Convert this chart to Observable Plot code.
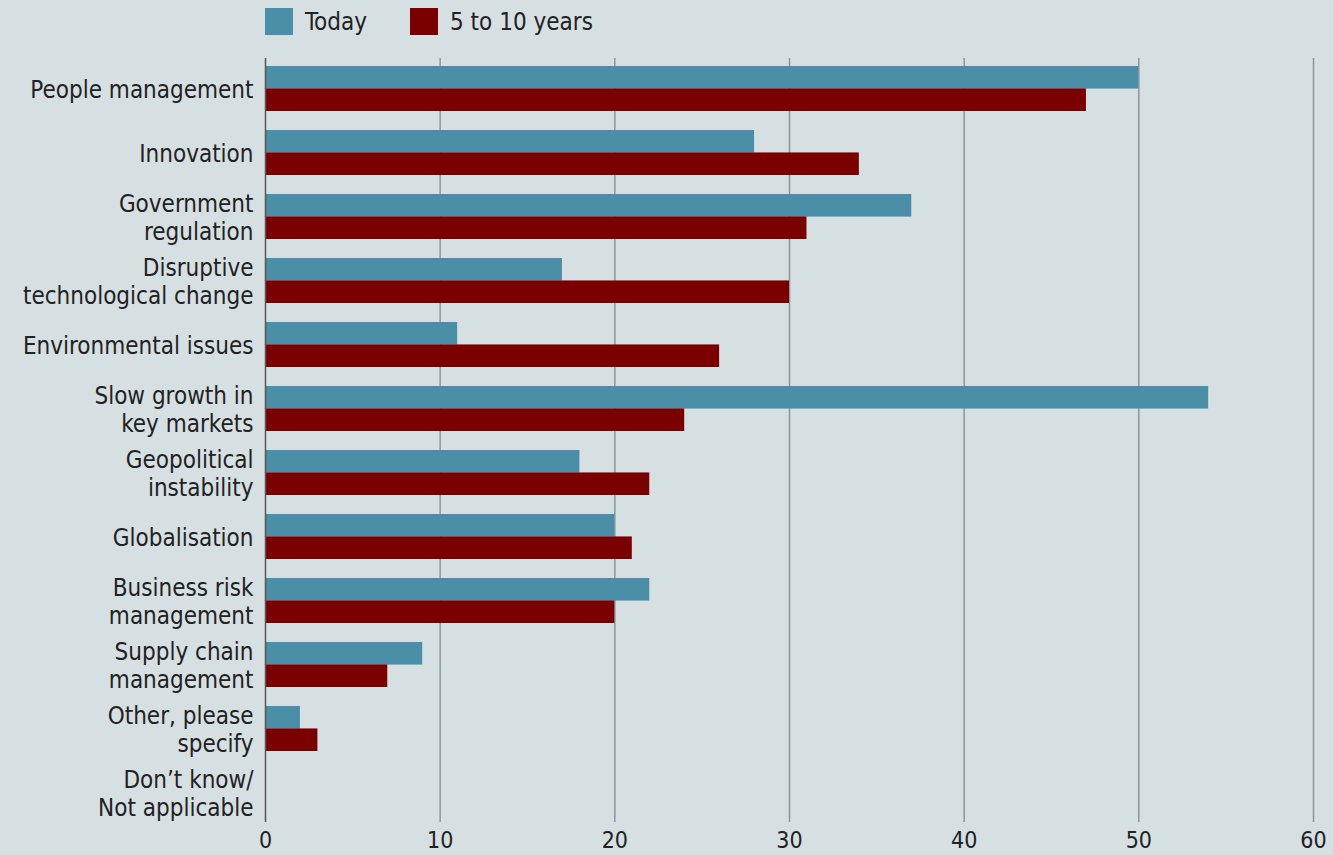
<!DOCTYPE html>
<html>
<head>
<meta charset="utf-8">
<script src="https://cdn.jsdelivr.net/npm/d3@7"></script>
<script src="https://cdn.jsdelivr.net/npm/@observablehq/plot@0.6"></script>
<style>
  html, body { margin: 0; padding: 0; background: #d6dfe2; }
  body { width: 1333px; height: 855px; overflow: hidden; font-family: "DejaVu Sans Condensed", "DejaVu Sans", sans-serif; color: #222; }
  #legend { height: 40px; display: flex; align-items: center; padding-left: 265px; font-size: 24px; box-sizing: border-box; padding-top: 3px; }
  .sw { width: 28px; height: 27px; display: inline-block; margin-right: 12px; }
  .item { display: flex; align-items: center; margin-right: 43px; }
</style>
</head>
<body>
<div id="legend"></div>
<div id="chart"></div>
<script>
const categories = [
  "People management",
  "Innovation",
  "Government\nregulation",
  "Disruptive\ntechnological change",
  "Environmental issues",
  "Slow growth in\nkey markets",
  "Geopolitical\ninstability",
  "Globalisation",
  "Business risk\nmanagement",
  "Supply chain\nmanagement",
  "Other, please\nspecify",
  "Don\u2019t know/\nNot applicable"
];
const today = [50, 28, 37, 17, 11, 54, 18, 20, 22, 9, 2, 0];
const future = [47, 34, 31, 30, 26, 24, 22, 21, 20, 7, 3, 0];
const seriesNames = ["Today", "5 to 10 years"];
const seriesColors = ["#4a8ea8", "#7a0000"];
const xTicks = [0, 10, 20, 30, 40, 50, 60];

const legend = document.getElementById("legend");
seriesNames.forEach((n, i) => {
  const it = document.createElement("div");
  it.className = "item";
  it.innerHTML = `<span class="sw" style="background:${seriesColors[i]}"></span><span>${n}</span>`;
  legend.appendChild(it);
});

const todayData = categories.map((c, i) => ({category: c, value: today[i]}));
const futureData = categories.map((c, i) => ({category: c, value: future[i]}));

const width = 1333, height = 815, marginTop = 18, marginBottom = 33;
const padIn = 0.3, padOut = 0.11;
const step = (height - marginTop - marginBottom) / (categories.length - padIn + 2 * padOut);
const half = step * (1 - padIn) / 2;

const chart = Plot.plot({
  width, height,
  marginLeft: 265, marginRight: 20, marginTop, marginBottom,
  style: {background: "transparent", fontFamily: "DejaVu Sans Condensed, DejaVu Sans, sans-serif", color: "#222"},
  x: {domain: [0, 60], ticks: xTicks},
  y: {domain: categories, paddingInner: padIn, paddingOuter: padOut},
  marks: [
    Plot.ruleX(xTicks.slice(1), {stroke: "#8d979b", strokeWidth: 1.5}),
    Plot.barX(todayData, {y: "category", x: "value", fill: seriesColors[0], insetBottom: half}),
    Plot.barX(futureData, {y: "category", x: "value", fill: seriesColors[1], insetTop: half}),
    Plot.ruleX([0], {stroke: "#555", strokeWidth: 1.5}),
    Plot.axisX({ticks: xTicks, tickSize: 0, tickPadding: 9, fontSize: 23, label: null}),
    Plot.axisY({tickSize: 0, tickPadding: 12, fontSize: 24, lineHeight: 1.17, label: null})
  ]
});
document.getElementById("chart").appendChild(chart);
</script>
</body>
</html>
